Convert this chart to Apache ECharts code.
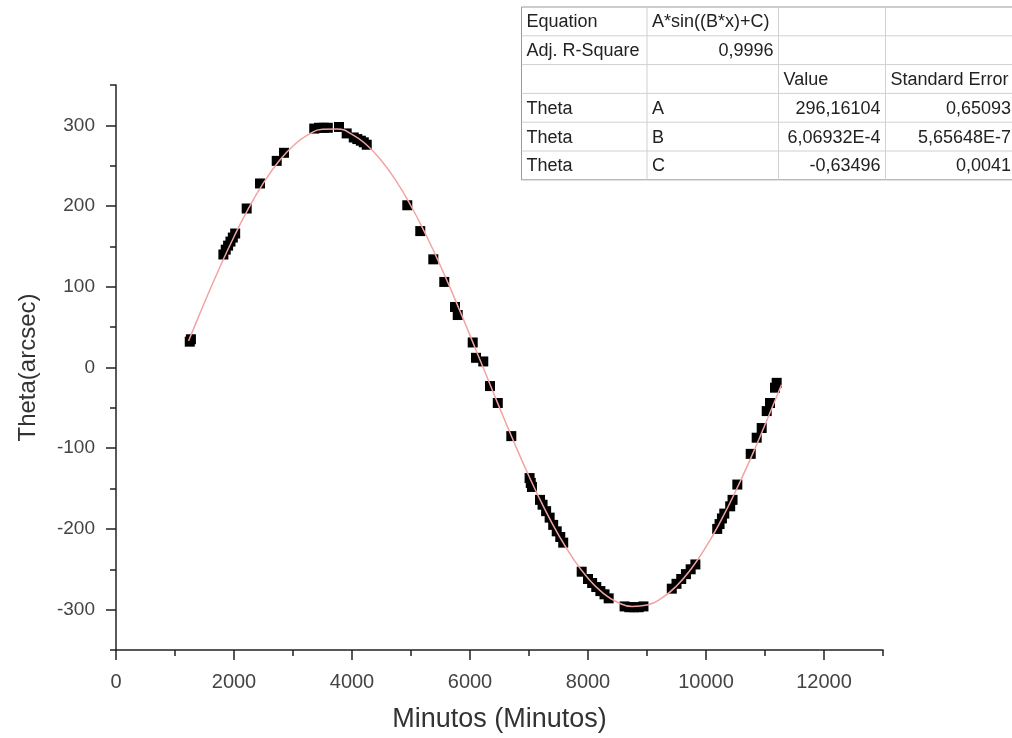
<!DOCTYPE html>
<html>
<head>
<meta charset="utf-8">
<script src="https://cdn.jsdelivr.net/npm/echarts@6/dist/echarts.min.js"></script>
<style>
html,body{margin:0;padding:0;background:#fff;}
#chart{width:1012px;height:738px;}
</style>
</head>
<body>
<div id="chart"></div>
<script>
// ---- data ----
var pointX = [1250, 1270, 1820, 1860, 1900, 1940, 1980, 2020, 2215, 2441, 2724, 2847,
  3360, 3440, 3520, 3590, 3780, 3910, 4030, 4090, 4150, 4200, 4250,
  4937, 5157, 5378, 5564, 5746, 5792, 6046, 6102, 6225, 6339, 6471, 6700,
  7010, 7030, 7050, 7186, 7230, 7290, 7350, 7410, 7470, 7530, 7580, 7893,
  8000, 8070, 8140, 8210, 8280, 8350, 8620, 8700, 8780, 8860, 8940,
  9420, 9500, 9580, 9660, 9740, 9820, 10190, 10230, 10270, 10310, 10410, 10450,
  10531, 10758, 10859, 10944, 11029, 11085, 11169, 11198];
var pointY = [32, 35, 140, 146, 151, 156, 161, 166, 197, 228, 256, 266,
  296, 297, 297, 297, 298, 290, 285, 283, 281, 279, 276,
  201, 169, 134, 106, 75, 65, 31, 12, 7.5, -23, -44, -85,
  -137, -143, -148, -164, -170, -178, -186, -195, -203, -210, -217, -253,
  -262, -267, -272, -277, -281, -286, -296, -297, -297, -297, -296,
  -274, -268, -262, -256, -250, -244, -200, -194, -187, -181, -172, -164,
  -145, -107, -87, -75, -54, -44, -25, -19];

var fitX = [1230, 1250, 1500, 1750, 2000, 2250, 2500, 2750, 3000, 3250, 3500, 3750, 4000,
  4250, 4500, 4750, 5000, 5250, 5500, 5750, 6000, 6250, 6500, 6750, 7000, 7250,
  7500, 7750, 8000, 8250, 8500, 8750, 9000, 9250, 9500, 9750, 10000, 10250,
  10500, 10750, 11000, 11250, 11280];
var fitY = [33.0, 36.5, 80.5, 122.7, 162.0, 197.7, 228.7, 254.5, 274.5, 288.1, 295.2, 295.4, 288.9,
  275.6, 256.2, 230.8, 200.1, 164.8, 125.7, 83.8, 39.8, -5.0, -49.7, -93.2, -134.7, -173.0,
  -207.3, -236.9, -261.0, -279.2, -290.9, -296.0, -294.2, -285.7, -270.6, -249.3, -222.3, -190.1,
  -153.6, -113.8, -71.0, -26.7, -21.3];

var xTickValues = [0, 2000, 4000, 6000, 8000, 10000, 12000];
var yTickValues = [-300, -200, -100, 0, 100, 200, 300];

var xTitle = 'Minutos (Minutos)';
var yTitle = 'Theta(arcsec)';

var tableRows = [
  ['Equation', 'A*sin((B*x)+C)', '', ''],
  ['Adj. R-Square', '0,9996', '', ''],
  ['', '', 'Value', 'Standard Error'],
  ['Theta', 'A', '296,16104', '0,65093'],
  ['Theta', 'B', '6,06932E-4', '5,65648E-7'],
  ['Theta', 'C', '-0,63496', '0,0041']
];

// ---- build ----
var FONT = "Arial, 'Liberation Sans', sans-serif";
var scatterData = pointX.map(function (x, i) { return [x, pointY[i]]; });
var fitData = fitX.map(function (x, i) { return [x, fitY[i]]; });

var colX = [521.5, 647, 778.5, 885.5, 1016];
var rowTop = 7, rowH = 28.8;
var graphics = [];
graphics.push({
  type: 'rect', z: 100,
  shape: { x: colX[0], y: rowTop, width: colX[4] + 20 - colX[0], height: rowH * tableRows.length },
  style: { fill: '#fff', stroke: '#9a9a9a', lineWidth: 1 }
});
for (var r = 1; r < tableRows.length; r++) {
  graphics.push({ type: 'line', z: 101, shape: { x1: colX[0], y1: rowTop + r * rowH, x2: colX[4] + 20, y2: rowTop + r * rowH },
    style: { stroke: '#d0d0d0', lineWidth: 1 } });
}
for (var c = 1; c < 4; c++) {
  graphics.push({ type: 'line', z: 101, shape: { x1: colX[c], y1: rowTop, x2: colX[c], y2: rowTop + rowH * tableRows.length },
    style: { stroke: '#d0d0d0', lineWidth: 1 } });
}
var numRe = /^-?[\d,]+(E-?\d+)?$/;
tableRows.forEach(function (row, ri) {
  row.forEach(function (txt, ci) {
    if (!txt) return;
    var right = numRe.test(txt);
    graphics.push({
      type: 'text', z: 102,
      x: right ? colX[ci + 1] - 5 : colX[ci] + 5,
      y: rowTop + ri * rowH + rowH / 2 + 1,
      style: { text: txt, fill: '#222', font: '18px ' + FONT, align: right ? 'right' : 'left', verticalAlign: 'middle' }
    });
  });
});

var chart = echarts.init(document.getElementById('chart'), null, { renderer: 'canvas' });
var axisColor = '#222';
chart.setOption({
  animation: false,
  backgroundColor: '#fff',
  grid: { left: 116, right: 129, top: 85, bottom: 87, containLabel: false },
  xAxis: [{
    type: 'value', min: 0, max: 13000, position: 'bottom',
    name: xTitle, nameLocation: 'middle', nameGap: 56,
    nameTextStyle: { fontSize: 27, color: '#333', fontFamily: FONT },
    axisLine: { onZero: false, lineStyle: { color: axisColor, width: 1.5 } },
    axisTick: { show: true, inside: false, length: 10, customValues: xTickValues, lineStyle: { color: axisColor, width: 1.5 } },
    axisLabel: { customValues: xTickValues, fontSize: 20, color: '#444', fontFamily: FONT, margin: 22,
      formatter: function (v) { return String(v); } },
    splitLine: { show: false }
  }, {
    type: 'value', min: 0, max: 13000, interval: 1000, position: 'bottom',
    axisLine: { show: false, onZero: false },
    axisTick: { show: true, length: 6, lineStyle: { color: axisColor, width: 1.5 } },
    axisLabel: { show: false },
    splitLine: { show: false }
  }],
  yAxis: [{
    type: 'value', min: -350, max: 350, position: 'left',
    name: yTitle, nameLocation: 'middle', nameGap: 76, nameRotate: 90,
    nameTextStyle: { fontSize: 24, color: '#333', fontFamily: FONT },
    axisLine: { show: true, onZero: false, lineStyle: { color: axisColor, width: 1.5 } },
    axisTick: { show: true, length: 10, customValues: yTickValues, lineStyle: { color: axisColor, width: 1.5 } },
    axisLabel: { customValues: yTickValues, fontSize: 19, color: '#444', fontFamily: FONT, margin: 21,
      formatter: function (v) { return String(v); } },
    splitLine: { show: false }
  }, {
    type: 'value', min: -350, max: 350, interval: 50, position: 'left',
    axisLine: { show: false, onZero: false },
    axisTick: { show: true, length: 6, lineStyle: { color: axisColor, width: 1.5 } },
    axisLabel: { show: false },
    splitLine: { show: false }
  }],
  series: [{
    type: 'scatter', xAxisIndex: 0, yAxisIndex: 0,
    data: scatterData, symbol: 'rect', symbolSize: 10,
    itemStyle: { color: '#000', opacity: 1 }, z: 2
  }, {
    type: 'line', xAxisIndex: 0, yAxisIndex: 0,
    data: fitData, showSymbol: false, smooth: true,
    lineStyle: { color: '#f3a3a3', width: 1.5 }, z: 3
  }],
  graphic: graphics
});
</script>
</body>
</html>
